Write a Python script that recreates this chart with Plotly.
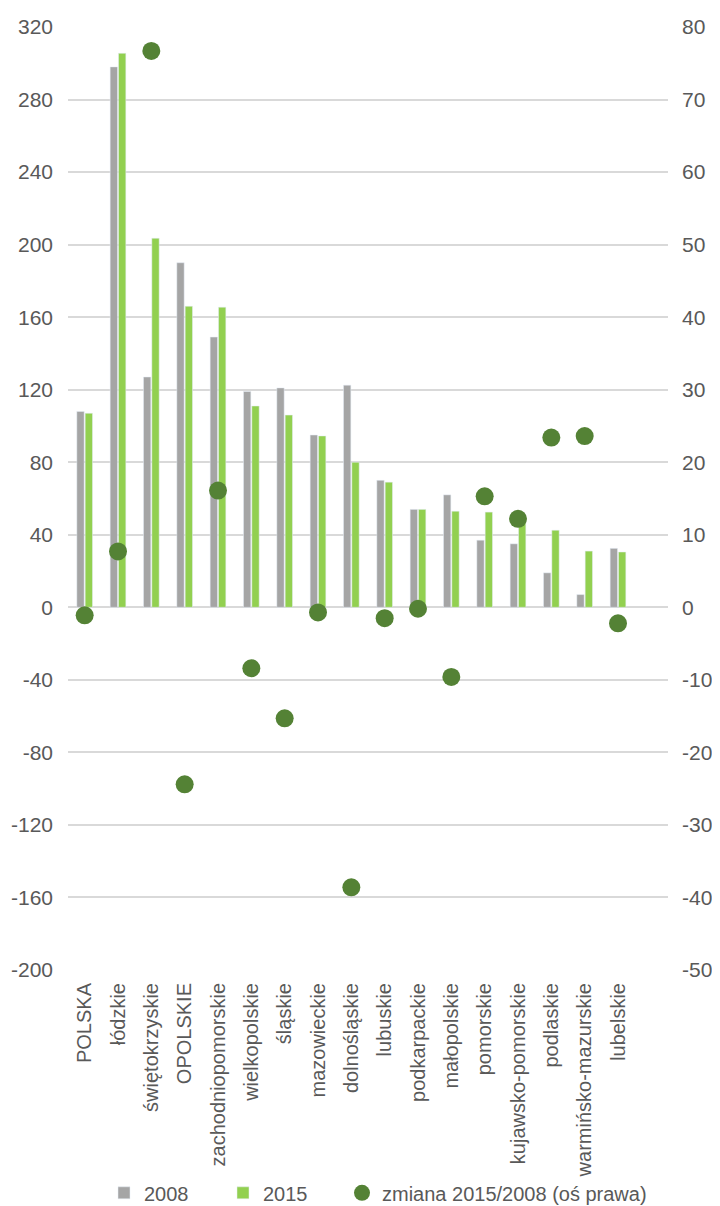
import plotly.graph_objects as go

regiony = ["POLSKA", "łódzkie", "świętokrzyskie", "OPOLSKIE", "zachodniopomorskie",
           "wielkopolskie", "śląskie", "mazowieckie", "dolnośląskie", "lubuskie",
           "podkarpackie", "małopolskie", "pomorskie", "kujawsko-pomorskie",
           "podlaskie", "warmińsko-mazurskie", "lubelskie"]
v2008 = [108, 298, 127, 190, 149, 119, 121, 95, 122.5, 70, 54, 62, 37, 35, 19, 7, 32.5]
v2015 = [107, 305.5, 203.5, 166, 165.5, 111, 106, 94.5, 80, 69, 54, 53, 52.5, 48, 42.5, 31, 30.5]
zmiana = [-1.1, 7.7, 76.7, -24.4, 16.1, -8.4, -15.3, -0.7, -38.6, -1.5, -0.2, -9.6,
          15.3, 12.2, 23.4, 23.6, -2.2]

left_ticks = [-200, -160, -120, -80, -40, 0, 40, 80, 120, 160, 200, 240, 280, 320]
right_ticks = [-50, -40, -30, -20, -10, 0, 10, 20, 30, 40, 50, 60, 70, 80]

font_main = "Liberation Sans, Arial"
txt = "#595959"

fig = go.Figure()

fig.add_trace(go.Bar(x=regiony, y=v2008, name="2008", legendwidth=74,
                     marker=dict(color="#A5A5A5")))
fig.add_trace(go.Bar(x=regiony, y=v2015, name="2015", legendwidth=74,
                     marker=dict(color="#92D050")))
fig.add_trace(go.Scatter(x=regiony, y=zmiana, name="zmiana 2015/2008 (oś prawa)",
                         mode="markers", yaxis="y2", legendwidth=280,
                         marker=dict(color="#548235", size=18)))

# page body has an 8px margin, so the figure is shrunk and shifted to fit the window
fig.update_layout(
    width=712, height=1198,
    margin=dict(l=60, r=52, t=19, b=236),
    plot_bgcolor="white", paper_bgcolor="white",
    font=dict(family=font_main, size=21, color=txt),
    barmode="group", bargap=0.5, bargroupgap=0.12,
    xaxis=dict(type="category", range=[-0.5, 17.5], tickangle=-90, automargin=False,
               showgrid=False, showline=False, ticks="", ticklabelstandoff=8,
               tickfont=dict(size=20)),
    yaxis=dict(range=[-200, 320], tickvals=left_ticks,
               ticktext=[str(v) for v in left_ticks], automargin=False,
               showgrid=True, gridcolor="#D9D9D9", gridwidth=1.5, zeroline=False,
               ticks="", ticklabelstandoff=14),
    yaxis2=dict(range=[-50, 80], tickvals=right_ticks,
                ticktext=[str(v) for v in right_ticks], automargin=False,
                overlaying="y", side="right", showgrid=False, zeroline=False,
                ticks="", ticklabelstandoff=13),
    legend=dict(orientation="h", x=0.06, xanchor="left", yref="container",
                y=0.011, yanchor="middle",
                bgcolor="rgba(0,0,0,0)", font=dict(size=20), traceorder="normal",
                itemwidth=30),
)

fig.write_html("out.html")
